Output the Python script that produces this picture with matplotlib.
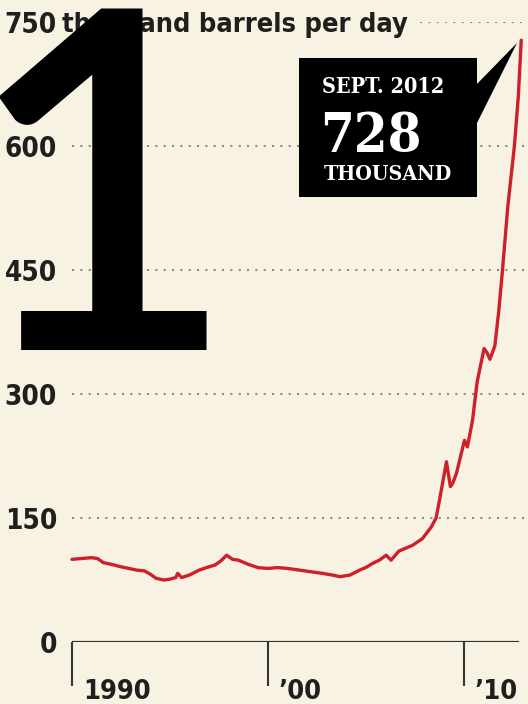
import matplotlib
matplotlib.use('Agg')
import matplotlib.pyplot as plt
import matplotlib.transforms as mtransforms
from matplotlib.patches import Rectangle, Polygon

# ---- data ----
years = [1990.0, 1990.5, 1991.0, 1991.3, 1991.6, 1992.0, 1992.5, 1992.9, 1993.3, 1993.7,
         1994.0, 1994.3, 1994.7, 1995.0, 1995.3, 1995.4, 1995.6, 1996.0, 1996.5, 1997.0,
         1997.3, 1997.6, 1997.9, 1998.2, 1998.5, 1999.0, 1999.5, 2000.0, 2000.5, 2001.0,
         2001.6, 2002.2, 2002.8, 2003.3, 2003.7, 2004.2, 2004.7, 2005.0, 2005.35, 2005.7,
         2006.05, 2006.3, 2006.7, 2007.0, 2007.4, 2007.9, 2008.35, 2008.6, 2008.8, 2009.13,
         2009.33, 2009.45, 2009.64, 2010.05, 2010.2, 2010.46, 2010.7, 2011.05, 2011.2,
         2011.35, 2011.6, 2011.8, 2012.0, 2012.26, 2012.6, 2012.8, 2012.95]
production = [100, 101, 102, 101, 96, 94, 91, 89, 87, 86,
              82, 77, 75, 76, 78, 83, 78, 81, 87, 91,
              93, 98, 105, 100, 99, 94, 90, 89, 90, 89,
              87, 85, 83, 81, 79, 81, 87, 90, 95, 99,
              105, 99, 110, 113, 117, 125, 139, 150, 175, 218,
              188, 192, 204, 244, 236, 268, 315, 355, 350,
              342, 358, 400, 452, 526, 600, 660, 728]

y_ticks = [0, 150, 300, 450, 600, 750]
x_ticks = [1990, 2000, 2010]
x_tick_labels = ['1990', '\u201900', '\u201910']
unit_label = 'thousand barrels per day'
callout_date = 'SEPT. 2012'
callout_value = '728'
callout_unit = 'THOUSAND'
big_number = '1'

# ---- layout helpers (pixel -> figure fraction) ----
W, H = 528, 704
def fx(px):
    return px / W
def fy(py):
    return 1 - py / H

bg = '#f8f2e3'
red = '#cf1f2a'
ink = '#1f1f1f'
label_font = dict(family=['DejaVu Sans'], weight='bold', stretch='condensed')
serif_font = dict(family=['DejaVu Serif'], weight='bold', stretch='condensed')

fig = plt.figure(figsize=(5.28, 7.04), dpi=100)
fig.patch.set_facecolor(bg)

ax = fig.add_axes([fx(72), fy(642), (528 - 72) / W, (642 - 22) / H])
ax.patch.set_alpha(0)
ax.set_xlim(1990, 1990 + 456 / 19.575)
ax.set_ylim(0, 750)
for s in ax.spines.values():
    s.set_visible(False)

# gridlines
for v in y_ticks[1:]:
    xmin = (420 - 72) / 456 if v == y_ticks[-1] else 0.0
    ax.axhline(v, xmin=xmin, xmax=(525 - 72) / 456, color='#8c8c8c', lw=1.5,
               ls=(0, (1, 3)), zorder=1)
# baseline axis
ax.axhline(0, xmin=0, xmax=(518 - 72) / 456, color='#333333', lw=1.6, zorder=2)

# y ticks
ax.set_yticks(y_ticks)
ax.set_yticklabels([str(v) for v in y_ticks], fontsize=20, color=ink, **label_font)
ax.tick_params(axis='y', length=0, pad=10.8)
ax.text(-10 / 456, y_ticks[-1], unit_label, transform=ax.get_yaxis_transform(),
        ha='left', va='center_baseline', fontsize=19.5, color=ink, **label_font)

# x ticks
ax.set_xticks(x_ticks)
ax.tick_params(axis='x', length=32, width=1.5, direction='out', color='#333333',
               labelbottom=False)
blend = mtransforms.blended_transform_factory(ax.transData, fig.transFigure)
for t, lab in zip(x_ticks, x_tick_labels):
    ax.text(t + 0.55, fy(699), lab, transform=blend, ha='left', va='baseline',
            fontsize=19.5, color=ink, **label_font)

# series
ax.plot(years, production, color=red, lw=2.4, solid_joinstyle='round',
        solid_capstyle='round', zorder=3, clip_on=False)

# callout
fig.add_artist(Rectangle((fx(299), fy(197)), (477 - 299) / W, (197 - 58) / H,
                         transform=fig.transFigure, facecolor='black', edgecolor='none',
                         zorder=4))
fig.add_artist(Polygon([(fx(476), fy(85)), (fx(517), fy(43)), (fx(476), fy(125))],
                       closed=True, transform=fig.transFigure, facecolor='black',
                       edgecolor='none', zorder=4))
fig.text(fx(322), fy(93), callout_date, ha='left', va='baseline', color='white',
         fontsize=15.5, zorder=5, **serif_font)
fig.text(fx(320), fy(152), callout_value, ha='left', va='baseline', color='white',
         fontsize=39, zorder=5, **serif_font)
fig.text(fx(324), fy(180), callout_unit, ha='left', va='baseline', color='white',
         fontsize=15.3, zorder=5, **serif_font)

# big overlay number
fig.text(fx(100), fy(350), big_number, ha='center', va='baseline', color='black',
         fontsize=340, fontweight='semibold', family='Lato', zorder=6)

fig.savefig('out.png', dpi=100, facecolor=bg)
